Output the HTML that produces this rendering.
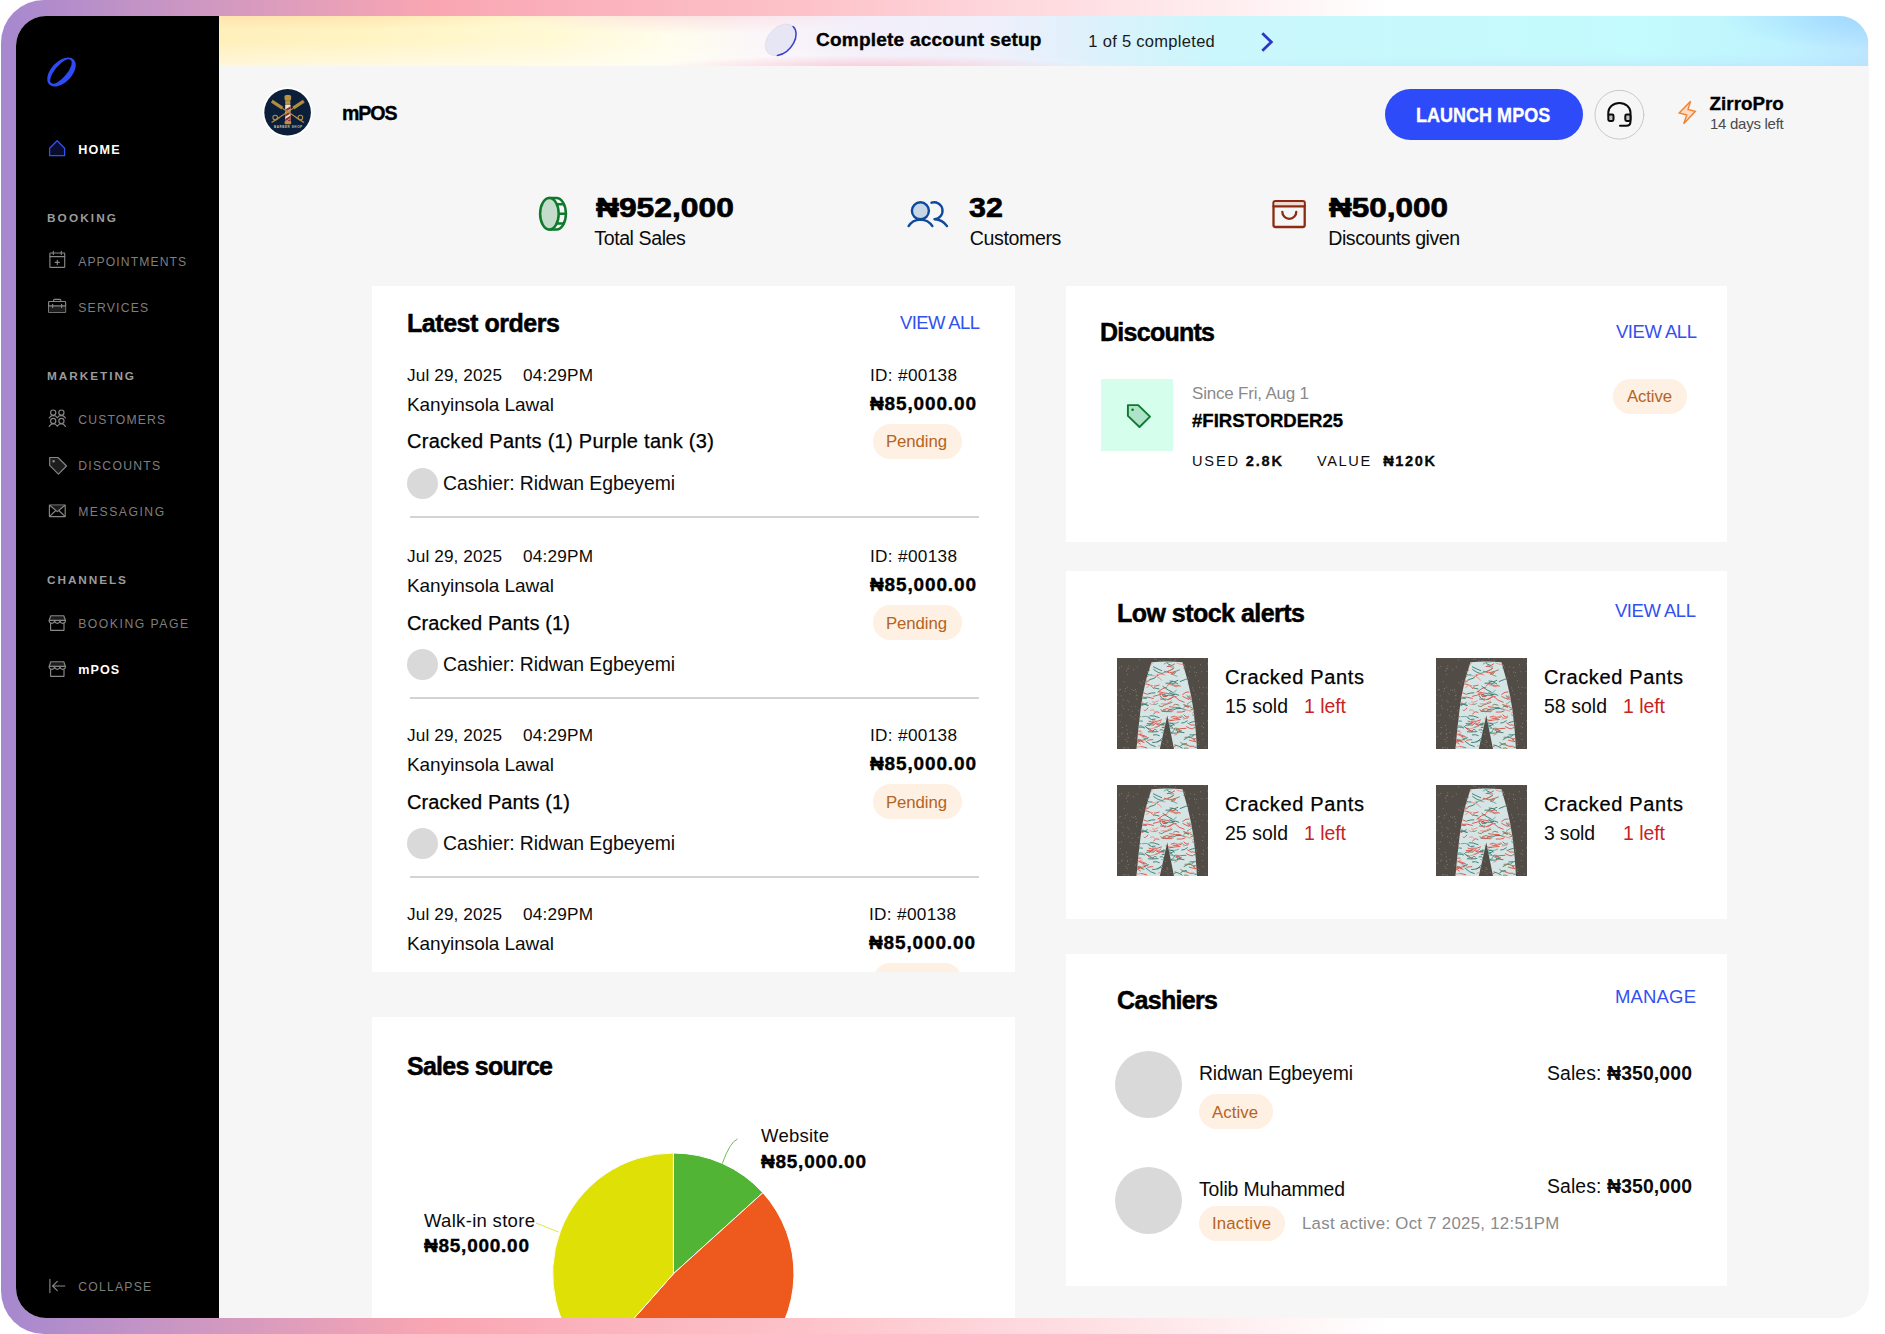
<!DOCTYPE html>
<html lang="en">
<head>
<meta charset="utf-8">
<title>mPOS</title>
<style>
*{box-sizing:border-box;margin:0;padding:0}
html,body{width:1885px;height:1334px;overflow:hidden;background:#fff}
body{font-family:"Liberation Sans",sans-serif;color:#0b0b0b;position:relative}
.frame{position:absolute;left:1px;top:0;width:1884px;height:1334px;border-radius:43px;
 background:linear-gradient(90deg,#a688cf 0px,#c795c4 160px,#f9a6b2 430px,#fdc2c9 800px,#fedfe3 1080px,#fff 1390px)}
.app{position:absolute;left:16px;top:16px;width:1852.500px;height:1302px;border-radius:30px;background:#f6f6f6;overflow:hidden}
.pg{position:absolute;left:-16px;top:-16px;width:1885px;height:1334px}
.a{position:absolute;white-space:nowrap;line-height:1}
.side{position:absolute;left:16px;top:16px;width:203px;height:1302px;background:#000}
.banner{position:absolute;left:219px;top:16px;width:1649px;height:50px;
 background:
  radial-gradient(ellipse 220px 13px at 650px 52px,rgba(251,176,192,.62),rgba(251,176,192,0) 100%),
  radial-gradient(ellipse 760px 34px at 200px 58px,rgba(255,255,255,.65),rgba(255,255,255,0) 100%),
  radial-gradient(ellipse 300px 16px at 60px -2px,rgba(255,214,160,.6),rgba(255,214,160,0) 100%),
  radial-gradient(ellipse 200px 22px at 470px -4px,rgba(250,205,215,.6),rgba(250,205,215,0) 100%),
  radial-gradient(ellipse 150px 34px at 1649px 0px,rgba(140,205,255,.6),rgba(140,205,255,0) 100%),
  radial-gradient(ellipse 560px 16px at 1420px 54px,rgba(180,215,255,.4),rgba(180,215,255,0) 100%),
  linear-gradient(90deg,#fff0bc 0px,#fff4c3 150px,#fff9d4 330px,#fffdec 450px,#fbf6f9 540px,#f3effa 640px,#eef0fb 780px,#dcf1fb 880px,#caf7fc 1000px,#c4fbfd 1420px,#bff3fe 1560px,#bce6fe 1649px)}
.card{position:absolute;background:#fff}
.pill{position:absolute;background:#fef0e2;border-radius:18px;color:#b4641f;font-size:16.5px;text-align:center;line-height:35px;height:35px}
.dot{position:absolute;border-radius:50%;background:#d9d9d9}
.hr{position:absolute;height:1.500px;margin-top:0.300px;background:#d3d3d3;left:38px;width:569px}
</style>
</head>
<body>
<div class="frame"></div>
<div class="app">
<div class="pg">
<div class="side"></div>
<svg class="a" style="left:0;top:0" width="230" height="1334" viewBox="0 0 230 1334" fill="none" stroke-linecap="round" stroke-linejoin="round">
  <!-- logo -->
  <path fill="#2f4bf6" fill-rule="evenodd" d="M44 72a17.500 10.300 0 1 0 35 0a17.500 10.300 0 1 0 -35 0Z M46.500 72.300a15 5.700 -4 1 0 29.900 -2.100a15 5.700 -4 1 0 -29.900 2.100Z" transform="rotate(-46 61.5 72)"/>
  <!-- home -->
  <path d="M49.600 148.200L57.100 140.700L64.600 148.200V155.700H49.600Z" fill="#0a0d2e" stroke="#3350f5" stroke-width="1.3"/>
  <g stroke="#878787" stroke-width="1.150">
  <!-- calendar -->
  <rect x="49.9" y="253" width="14.8" height="14.3" rx="0.6"/>
  <path d="M49.9 256.6H64.7M53.3 251.4V254.4M61.3 251.4V254.4M57.3 260.2V264.4M55.2 262.3H59.4"/>
  <!-- briefcase -->
  <rect x="48.6" y="301.5" width="17" height="11" rx="0.8"/>
  <path d="M48.9 306H65.3V312.2H48.9Z" fill="#1d1d1d" stroke="none"/>
  <path d="M53.6 301.5V300.3Q53.6 299.3 54.6 299.3H59.8Q60.8 299.3 60.8 300.3V301.5M48.6 305.9H65.6M52.6 304.2V307.5M61.6 304.2V307.5"/>
  <!-- customers -->
  <circle cx="53.2" cy="412.6" r="2.6"/><circle cx="61.4" cy="412.6" r="2.6"/>
  <circle cx="53.2" cy="420.9" r="2.6"/><circle cx="61.4" cy="420.9" r="2.6"/>
  <path d="M49.2 418Q50.6 415.6 53.2 415.4Q55.9 415.6 57.3 417.8Q58.7 415.6 61.4 415.4Q64 415.6 65.4 418"/>
  <path d="M49.2 426.4Q50.6 424 53.2 423.8Q55.9 424 57.3 426.2Q58.7 424 61.4 423.8Q64 424 65.4 426.4"/>
  <!-- tag -->
  <path d="M49.7 457.5H58L66.5 466L58.4 474.1L49.7 465.4Z" fill="#1d1d1d"/>
  <circle cx="53.6" cy="461.2" r="0.7" fill="#838383"/>
  <!-- envelope -->
  <rect x="49.4" y="505.1" width="15.8" height="11.5" rx="0.4"/>
  <path d="M49.8 505.5L57.3 511.5L64.8 505.5Z" fill="#1d1d1d" stroke="none"/>
  <path d="M49.6 505.3L57.3 511.6L65 505.3M49.6 516.4L55.8 510.5M65 516.4L58.8 510.5"/>
  <!-- store 1 -->
  <g id="store">
  <path d="M50.8 615.7H63.8L65.4 620.3H49.2Z" fill="#1d1d1d"/>
  <path d="M49.2 620.3V621.3Q49.4 623.2 51.9 623.4Q54.4 623.2 54.6 620.8Q54.9 623.2 57.3 623.4Q59.7 623.2 60 620.8Q60.2 623.2 62.7 623.4Q65.2 623.2 65.4 621.3V620.3"/>
  <path d="M50.6 623.4V630.3H64V623.4M54.6 620.3V621M60 620.3V621"/>
  </g>
  <use href="#store" y="46"/>
  <!-- collapse -->
  <path d="M49.9 1279.2V1292.6M52.8 1286H64.8M57.3 1281.3L52.6 1286L57.3 1290.7"/>
  </g>
</svg>

<div class="banner"></div>
<svg class="a" style="left:740px;top:16px" width="560" height="50" viewBox="740 16 560 50" fill="none" stroke-linecap="round" stroke-linejoin="round">
  <g transform="rotate(-47 780.7 39.8)">
    <ellipse cx="780.7" cy="39.8" rx="18.2" ry="12.4" fill="#e7e6f5" stroke="#dcdbe2" stroke-width="0.700"/>
    <path d="M798.9 39.8A18.2 12.4 0 0 1 767 48" stroke="#3a3ed2" stroke-width="1.5"/>
  </g>
  <path d="M1262.3 33.3L1271.3 42L1262.3 50.7" stroke="#2f35c9" stroke-width="2.800" stroke-linecap="butt" stroke-linejoin="miter"/>
</svg>
<svg class="a" style="left:255px;top:80px" width="70" height="66" viewBox="255 80 70 66">
  <circle cx="287.600" cy="112.300" r="25" fill="#fff"/>
  <circle cx="287.600" cy="112.300" r="23.300" fill="#0c1f3a"/>
  
  <rect x="284.500" y="95" width="6.600" height="5.600" rx="1.600" fill="#b8923f"/>
  <rect x="285.200" y="100.200" width="5.200" height="4.600" rx="0.800" fill="#b8923f"/>
  <rect x="285.200" y="104.800" width="5.400" height="16.400" fill="#e9e4d8"/>
  <path d="M285.200 109.600l5.400-3.400v2.500l-5.400 3.400zM285.200 114.300l5.400-3.400v2.500l-5.400 3.400zM285.200 119l5.400-3.400v2.500l-5.400 3.400zM286.500 121.200l4.100-2.600v2.500l-.2 .1z" fill="#9a2b2b"/>
  <rect x="284.600" y="121" width="6.600" height="3.200" rx="1" fill="#b8923f"/>
  <g stroke="#b08c40" stroke-linecap="butt" fill="none">
    <path d="M271.800 101.200L282.400 108.200" stroke-width="3.200"/><path d="M282.400 108.200L304 122.400" stroke-width="1.200"/>
    <path d="M303.800 101.200L293.200 108.200" stroke-width="3.200"/><path d="M293.200 108.200L271.600 122.400" stroke-width="1.200"/>
    <circle cx="275.200" cy="117.600" r="2.300" stroke-width="1.100"/><circle cx="300.400" cy="117.600" r="2.300" stroke-width="1.100"/>
    <path d="M273 121.800L280 117.800M302.600 121.800L295.600 117.800" stroke-width="0.800" opacity="0.700"/>
  </g>
  <text x="288.300" y="127.900" font-family="Liberation Sans, sans-serif" font-weight="700" font-size="3" letter-spacing="0.600" fill="#cfc5a4" text-anchor="middle">BARBER SHOP</text>
</svg>
<div class="a" style="left:1385px;top:88.8px;width:198px;height:51.6px;border-radius:26px;background:#2e4bfa"></div>
<svg class="a" style="left:1590px;top:85px" width="115" height="60" viewBox="1590 85 115 60" fill="none" stroke-linecap="round" stroke-linejoin="round">
  <circle cx="1619.4" cy="114.7" r="24.4" stroke="#c9c9c9" stroke-width="1"/>
  <path d="M1608.3 115V112.5A11.1 9.6 0 0 1 1630.5 112.500V121.500Q1630.5 125.8 1626.2 125.8H1620" stroke="#0b0b0b" stroke-width="2"/>
  <rect x="1608.3" y="114.600" width="5.2" height="6.400" rx="1.4" fill="#c2c2c2" stroke="#0b0b0b" stroke-width="2"/>
  <rect x="1625.3" y="114.600" width="5.2" height="6.400" rx="1.4" fill="#c2c2c2" stroke="#0b0b0b" stroke-width="2"/>
  <path d="M1690.6 101.200L1679.200 113L1686.800 115L1683.700 123.700L1695.300 111.300L1688 109.400Z" fill="#fbdccb" stroke="#f5822a" stroke-width="1.400" stroke-linejoin="miter"/>
</svg>
<svg class="a" style="left:530px;top:190px" width="790" height="48" viewBox="530 190 790 48" fill="none" stroke-linecap="round" stroke-linejoin="round">
  <g stroke="#0e7a2b" stroke-width="2.5">
    <path d="M549.3 198.100H556.500A9.400 15.700 0 0 1 556.500 229.500H549.300" />
    <path d="M563.800 204.200H557.500M566 213.800H558.800M563.800 223.400H557.500"/>
    <ellipse cx="549.4" cy="213.8" rx="9.3" ry="15.700" fill="#c3dccb"/>
  </g>
  <g stroke="#0d4a9c" stroke-width="2.4">
    <circle cx="920.4" cy="210.800" r="8.500" fill="#c9d6e6"/>
    <path d="M908.600 226.100Q912.500 219.800 920.400 219.600Q928.300 219.800 932.400 226.100"/>
    <path d="M931.500 202.700A8.500 8.500 0 1 1 934.500 219.300Q942.500 219.600 947 226.100"/>
  </g>
  <g stroke="#8c2b0f" stroke-width="2.300">
    <rect x="1273.500" y="201.100" width="31.200" height="25.900" rx="2"/>
    <path d="M1274.500 202.300H1303.700V205.300H1274.500Z" fill="#f0dbd4" stroke="none"/>
    <path d="M1273.500 206.300H1304.700"/>
    <path d="M1282.300 211.800A7 7 0 0 0 1296.300 211.800"/>
  </g>
</svg>
<div class="card" style="left:372px;top:286px;width:643px;height:686px;overflow:hidden">
  <div class="hr" style="top:230px"></div>
  <div class="hr" style="top:411px"></div>
  <div class="hr" style="top:590px"></div>
  <div class="dot" style="left:34.500px;top:181.500px;width:31px;height:31px"></div>
  <div class="dot" style="left:34.500px;top:362.800px;width:31px;height:31px"></div>
  <div class="dot" style="left:34.500px;top:541.500px;width:31px;height:31px"></div>
  <div class="pill" style="left:501px;top:138px;width:89px"></div>
  <div class="pill" style="left:501px;top:319px;width:89px"></div>
  <div class="pill" style="left:501px;top:498px;width:89px"></div>
  <div class="pill" style="left:501px;top:677px;width:89px"></div>
</div>
<div class="card" style="left:372px;top:1017px;width:643px;height:320px"></div>
<svg class="a" style="left:372px;top:1100px" width="643" height="234" viewBox="372 1100 643 234" fill="none">
  <g stroke="#fff" stroke-width="1" stroke-linejoin="round">
  <path d="M673.4 1273.8L673.4 1153.0A120.8 120.8 0 0 1 762.9 1192.7Z" fill="#52b434"/>
  <path d="M673.4 1273.8L762.9 1192.7A120.8 120.8 0 0 1 593.4 1364.3Z" fill="#ee5a1e"/>
  <path d="M673.4 1273.8L593.4 1364.3A120.8 120.8 0 0 1 673.4 1153.0Z" fill="#dfe006"/>
  </g>
  <path d="M722.300 1163.500Q730 1142 737.500 1139" stroke="#6fc053" stroke-width="1"/>
  <path d="M536 1223L558.500 1232" stroke="#e3e44a" stroke-width="1"/>
</svg>
<div class="card" style="left:1065.500px;top:286px;width:661px;height:256px"></div>
<div class="a" style="left:1101.300px;top:378.800px;width:72px;height:72px;background:#d6feec"></div>
<svg class="a" style="left:1120px;top:398px" width="36" height="36" viewBox="1120 398 36 36" fill="none" stroke-linejoin="round">
  <path d="M1127.900 405.100H1138.200L1150 416.600L1139.500 427L1127.900 415.900Z" fill="#aee3c9" stroke="#0c7a2d" stroke-width="1.900"/>
  <circle cx="1132.600" cy="409.800" r="1.300" fill="#0c7a2d"/>
</svg>
<div class="pill" style="left:1613px;top:379px;width:74px"></div>
<div class="card" style="left:1065.500px;top:571px;width:661px;height:348px"></div>
<svg width="0" height="0" style="position:absolute"><defs>
<symbol id="pants" viewBox="0 0 91 91">
  <rect width="91" height="91" fill="#514c45"/>
  <path d="M52.5 20.7h.01M35.3 33.6h.01M59.8 73.8h.01M33.2 58.1h.01M32.2 25.4h.01M82.4 29.3h.01M8.6 30.5h.01M67.5 19.2h.01M67.6 49.7h.01M61.9 16.1h.01M9.6 13.0h.01M31.9 39.2h.01M0.9 45.7h.01M36.7 29.3h.01M48.9 86.7h.01M18.6 80.1h.01M29.2 68.6h.01M9.9 89.9h.01M39.1 87.6h.01M20.0 37.1h.01M64.3 16.2h.01M24.9 61.6h.01M86.2 29.3h.01M16.7 32.5h.01M90.0 13.5h.01M57.8 34.4h.01M58.6 19.3h.01M56.1 80.8h.01M77.9 57.2h.01M45.9 51.7h.01M10.4 76.2h.01M62.8 41.2h.01M60.6 38.2h.01M35.0 20.9h.01M54.7 52.1h.01M46.9 2.9h.01M57.1 40.7h.01M54.0 54.1h.01M84.8 13.8h.01M42.7 90.4h.01M67.2 28.5h.01M67.0 90.0h.01M36.6 78.9h.01M11.5 90.1h.01M44.7 21.3h.01M76.5 59.1h.01M85.3 75.5h.01M72.6 46.6h.01M90.4 5.9h.01M79.2 64.8h.01M22.8 73.5h.01M41.3 48.8h.01M78.8 17.8h.01M25.4 58.6h.01M6.7 50.5h.01M71.6 44.7h.01M22.0 72.8h.01M77.8 70.1h.01M50.0 82.4h.01M72.5 13.8h.01M33.3 9.1h.01M3.3 31.5h.01M78.7 75.9h.01M10.7 16.5h.01M35.4 77.3h.01M56.2 82.1h.01M6.5 89.9h.01M18.8 57.3h.01M79.8 66.2h.01M17.9 60.8h.01M39.2 1.4h.01M30.9 28.7h.01M57.3 25.3h.01M54.9 63.2h.01M16.4 11.7h.01M63.1 42.4h.01M11.7 10.6h.01M85.6 55.5h.01M32.5 17.9h.01M90.5 62.9h.01M67.0 32.8h.01M28.2 37.2h.01M13.3 57.4h.01M38.6 74.6h.01M37.2 41.6h.01M46.1 85.7h.01M31.5 64.0h.01M21.4 52.7h.01M25.9 79.4h.01M26.1 77.8h.01M61.6 41.4h.01M85.0 35.3h.01M67.6 54.7h.01M40.8 5.8h.01M38.1 25.6h.01M40.1 86.9h.01M26.7 63.2h.01M61.2 22.3h.01M37.4 12.0h.01M81.5 22.9h.01M38.3 31.1h.01M74.7 77.4h.01M53.8 49.7h.01M9.0 81.6h.01M8.0 33.1h.01M34.1 65.8h.01M60.9 31.3h.01M81.7 86.4h.01M2.1 57.6h.01M42.7 32.9h.01M42.3 28.8h.01M61.0 55.1h.01M88.3 88.9h.01M90.3 36.0h.01M75.4 59.1h.01M63.8 90.8h.01M6.1 42.1h.01M36.5 59.7h.01M19.8 90.1h.01M19.1 33.7h.01M13.0 35.9h.01M67.5 7.6h.01M15.2 59.1h.01M56.7 67.5h.01M23.1 73.8h.01M66.5 70.6h.01M10.9 42.6h.01M1.4 78.2h.01M86.0 81.5h.01M2.2 32.0h.01M48.8 48.6h.01M10.1 71.8h.01M27.4 46.2h.01M11.3 51.7h.01M11.8 8.0h.01M46.6 26.8h.01M70.8 22.5h.01M37.7 4.9h.01M19.8 41.1h.01M50.8 41.8h.01M77.4 9.5h.01M77.4 14.1h.01M88.3 47.8h.01M37.0 55.7h.01M78.6 87.7h.01M37.6 1.0h.01M14.0 74.5h.01M66.8 64.8h.01M14.2 48.3h.01M2.6 10.0h.01M27.4 87.9h.01M58.5 77.1h.01M4.2 37.9h.01M7.1 23.7h.01M10.2 83.6h.01M29.9 44.5h.01M59.5 80.7h.01M86.1 51.7h.01M45.6 82.3h.01M35.9 27.2h.01M67.3 23.5h.01M33.5 39.1h.01M43.4 32.6h.01M39.2 41.0h.01M4.5 76.0h.01M5.6 48.0h.01M49.8 36.4h.01M20.3 9.0h.01M33.8 28.6h.01M44.0 21.0h.01M68.2 44.4h.01M0.8 37.0h.01M87.9 0.6h.01M54.0 87.4h.01M33.3 54.4h.01M33.6 27.4h.01M55.4 53.6h.01M28.7 45.3h.01M47.0 68.6h.01M4.8 8.4h.01M22.9 24.6h.01M72.4 38.7h.01M78.3 36.6h.01M26.0 61.9h.01M7.8 89.6h.01M75.7 29.9h.01M28.9 74.6h.01M71.7 58.4h.01M5.2 69.5h.01M4.4 56.8h.01M50.2 84.4h.01M58.1 2.0h.01M85.0 68.5h.01M52.8 0.5h.01M67.1 38.1h.01M61.8 89.5h.01M83.4 6.8h.01M71.1 40.1h.01M68.4 34.4h.01M40.7 39.8h.01M10.7 29.1h.01M66.9 6.5h.01M10.5 75.9h.01M60.6 49.9h.01M10.3 10.8h.01M28.2 86.8h.01M51.0 83.9h.01M19.2 37.7h.01M48.8 76.4h.01M11.2 79.5h.01M43.0 2.9h.01M39.3 34.4h.01M61.4 84.5h.01M44.9 62.8h.01M35.3 70.9h.01M9.6 67.6h.01M15.2 53.3h.01M18.4 31.5h.01M14.9 31.8h.01M53.8 47.3h.01M35.4 52.3h.01M76.6 32.6h.01M53.1 43.7h.01M89.2 29.8h.01M63.5 21.3h.01M23.8 66.5h.01M52.3 23.4h.01M5.8 75.1h.01M34.4 65.2h.01M39.4 56.2h.01M50.9 88.8h.01M82.8 41.5h.01M44.3 21.1h.01M68.5 9.3h.01M27.9 77.1h.01M3.2 63.6h.01M51.7 50.2h.01M30.3 13.8h.01M86.5 69.6h.01M73.3 8.9h.01M71.4 19.9h.01M18.1 48.7h.01M55.5 11.0h.01M69.6 53.0h.01M81.8 84.1h.01M62.7 33.1h.01M86.5 65.4h.01M26.5 78.0h.01M66.1 24.1h.01M22.7 1.9h.01M48.9 23.1h.01M26.7 23.0h.01M12.0 44.1h.01M24.8 25.9h.01M25.3 46.3h.01M79.5 14.6h.01M78.2 77.8h.01M55.5 49.5h.01M66.8 48.6h.01M60.1 83.7h.01" stroke="#8a857b" stroke-width="1" stroke-linecap="round" fill="none"/>
  <clipPath id="pc"><path d="M34.500 4.300Q50 2.600 65.500 4.300Q67.500 12 70.500 22Q74.500 38 76.500 52Q79 72 80 91H57L50.300 57.500L42.800 91H19.500Q21 72 23.500 52Q25.500 36 29 22Q32 12 34.500 4.300Z"/></clipPath>
  <path d="M34.500 4.300Q50 2.600 65.500 4.300Q67.500 12 70.500 22Q74.500 38 76.500 52Q79 72 80 91H57L50.300 57.500L42.800 91H19.500Q21 72 23.500 52Q25.500 36 29 22Q32 12 34.500 4.300Z" fill="#d5e5e6"/>
  <g fill="none" stroke-linecap="round" stroke-width="0.950" clip-path="url(#pc)"><path stroke="#6aa79b" d="M70.3 45.9Q74.0 42.3 78.1 43.1M66.4 10.1Q68.4 7.8 73.0 8.2M54.1 15.6Q58.5 17.9 60.0 18.3M51.4 7.2Q54.2 10.7 56.8 8.9M23.1 43.9Q26.5 46.1 30.6 47.6M51.3 64.4Q58.0 66.7 61.7 64.1M44.8 53.2Q48.7 53.6 54.6 53.8M21.3 68.3Q23.0 66.5 26.2 68.4M75.5 6.0Q79.8 7.8 83.4 9.0M44.7 74.7Q47.4 76.7 50.7 73.4M64.9 58.0Q67.1 61.8 70.8 59.9M15.3 33.1Q17.3 32.9 21.6 34.2M52.4 35.0Q56.5 36.5 59.3 32.1M46.4 14.9Q52.6 13.1 56.4 10.7M25.9 79.8Q27.5 81.6 30.6 80.8M36.5 46.5Q39.5 46.9 40.6 45.6M50.4 69.4Q55.3 69.6 60.2 72.8M47.1 5.9Q50.4 3.1 55.1 3.8M14.1 51.9Q17.3 51.8 20.5 49.9M25.2 58.7Q28.5 57.7 32.6 59.2"/><path stroke="#3c7d71" d="M46.0 28.5Q51.7 32.6 55.4 34.2M67.1 49.1Q68.0 46.9 71.3 49.4M40.3 66.4Q42.8 67.7 47.2 66.9M43.3 37.8Q44.7 41.7 49.2 41.2M81.1 46.6Q83.9 46.1 88.5 49.7M75.8 57.1Q77.5 58.4 82.1 54.2M22.8 46.2Q25.8 45.0 31.4 47.3M45.7 36.4Q48.3 35.1 49.5 38.4M48.9 25.3Q52.6 26.1 55.5 23.4M63.8 87.6Q66.4 85.2 69.3 85.5M36.4 76.9Q39.9 76.0 42.3 77.6M35.6 73.7Q37.4 70.0 39.4 72.0M30.6 16.4Q32.6 17.5 34.9 17.0M28.9 83.2Q33.7 87.7 38.3 88.6M72.8 64.7Q79.5 62.1 83.4 64.6M58.7 50.6Q64.7 49.6 68.6 51.8M52.0 66.0Q55.6 64.0 57.4 66.8M77.8 89.2Q81.0 89.2 82.6 89.2M36.7 11.5Q42.4 16.1 45.7 15.4M42.4 67.6Q44.5 64.3 46.8 66.8M83.3 83.4Q86.8 81.7 87.6 82.4M49.3 71.0Q52.3 67.5 56.7 66.6M55.8 36.2Q59.0 35.4 61.8 37.2M76.8 69.9Q80.0 68.4 80.6 72.1M80.7 68.6Q84.4 69.2 85.8 66.3M33.2 57.7Q36.7 57.3 42.1 59.6M77.9 18.2Q80.3 18.7 82.8 21.0M38.1 69.5Q41.3 69.2 46.9 65.1M45.1 69.8Q47.2 70.5 51.3 67.2M75.3 10.9Q77.5 12.2 79.8 11.2M64.7 65.1Q67.1 65.3 70.3 62.8M77.4 32.4Q82.2 33.9 84.5 33.1M31.4 35.8Q34.3 34.7 37.9 34.8M67.1 81.5Q69.8 80.3 72.3 78.5M55.6 23.7Q57.2 24.6 60.8 22.4M57.9 86.9Q61.5 87.8 65.1 89.9M70.1 37.9Q73.3 40.9 77.8 38.0M43.1 71.9Q46.3 70.8 47.6 74.1M19.8 69.9Q22.3 68.0 27.6 69.9M79.6 70.0Q84.9 69.0 89.9 72.9M28.0 68.4Q31.0 71.2 33.6 71.3M37.3 29.8Q38.8 30.6 41.9 30.9M23.5 46.1Q25.7 47.7 30.3 44.8M25.1 40.3Q26.1 39.8 29.3 40.4M36.4 8.8Q41.3 11.3 44.7 12.7M75.5 21.8Q79.1 21.8 85.3 23.9M77.0 5.4Q81.3 6.5 85.2 7.2M27.4 81.5Q30.1 79.4 31.4 79.6M60.5 73.6Q64.9 74.7 67.0 74.7M82.8 42.8Q85.3 43.5 90.5 43.0M78.1 55.5Q78.7 53.7 81.8 57.1M32.3 21.8Q36.9 21.6 41.8 16.7M52.6 25.3Q55.4 25.9 59.1 28.6M46.4 38.6Q52.1 36.2 56.2 37.3M31.3 73.8Q35.8 74.3 40.9 73.6M19.1 64.8Q20.8 62.1 25.4 63.2M49.8 53.9Q52.7 50.0 58.0 51.3M24.3 22.0Q26.9 22.0 30.1 23.4M53.6 75.2Q59.4 76.5 64.2 72.8M53.1 35.1Q55.0 37.5 57.7 36.5M63.2 23.5Q69.0 20.9 73.2 20.1M35.6 84.5Q41.5 84.9 45.0 80.3M40.7 84.0Q42.7 82.1 44.7 82.4M31.7 59.9Q34.0 62.7 38.1 61.2M73.0 76.9Q77.6 77.3 80.9 76.2M47.0 65.1Q50.6 65.8 55.5 69.4M72.3 79.3Q74.4 80.3 76.9 76.9M29.7 67.5Q33.1 67.3 36.0 64.9M52.2 74.4Q53.4 76.1 56.9 72.7M75.6 42.1Q77.3 43.5 80.3 44.1M53.0 22.9Q56.2 22.5 60.8 25.8M50.0 4.9Q50.9 6.4 54.8 7.6"/><path stroke="#de5449" d="M45.7 53.3Q50.9 53.6 56.1 52.9M70.7 65.0Q73.9 67.0 74.4 67.2M36.8 56.0Q38.8 52.3 42.0 54.5M20.1 33.3Q24.1 33.3 30.4 36.3M14.8 44.9Q17.5 45.7 22.0 46.4M83.9 5.7Q86.4 7.6 88.4 8.5M83.3 22.8Q85.5 22.4 88.8 24.5M19.2 22.4Q22.4 21.0 26.5 18.1M65.8 38.5Q68.9 40.1 72.1 41.5M54.9 16.4Q58.0 16.5 58.6 14.2M15.5 60.0Q18.5 63.9 22.6 61.8M54.1 59.0Q57.7 56.8 60.7 59.6M46.4 51.6Q49.6 49.2 54.0 51.8M30.1 65.5Q35.1 64.5 37.5 66.4M75.6 37.8Q78.5 37.0 83.5 36.2M69.8 87.1Q72.5 89.0 76.9 88.3M67.8 46.9Q68.4 49.4 71.7 48.3M32.0 63.1Q37.2 64.0 41.8 67.3M50.7 13.6Q53.0 13.1 56.8 10.1M77.2 31.8Q79.1 36.2 82.7 34.6M24.3 20.2Q28.3 23.8 29.3 22.2M50.1 41.8Q54.2 41.8 57.1 37.7M42.6 35.6Q45.8 34.7 48.5 38.6M49.3 90.5Q55.2 90.7 58.6 87.9M71.0 39.7Q76.3 43.4 80.4 43.9M60.2 54.1Q65.5 54.5 67.9 53.2M52.5 48.7Q59.4 49.9 63.2 49.5M52.5 62.8Q59.1 61.5 63.1 61.5M15.9 72.0Q19.6 73.7 23.9 73.2M24.1 88.5Q25.5 88.6 29.7 89.8M56.1 60.3Q61.1 61.5 64.7 59.0M27.3 25.9Q33.3 25.5 37.0 30.7M14.7 26.8Q15.7 24.5 18.3 24.8M65.7 36.4Q69.1 33.2 72.0 33.9M81.6 61.3Q86.1 60.8 90.2 56.9M37.4 28.1Q38.3 28.5 42.1 27.1M41.6 33.7Q46.9 35.0 52.2 35.8M72.4 82.2Q77.7 84.3 82.9 83.8M43.5 41.0Q47.4 40.9 48.4 42.3M36.5 38.3Q41.4 37.1 43.9 36.4M60.2 71.9Q62.1 71.1 64.5 73.7M76.5 80.9Q80.9 80.2 86.8 80.3M50.1 8.7Q53.0 9.8 57.6 5.9M78.2 12.0Q82.9 10.6 87.5 8.9M80.3 88.8Q83.5 91.5 86.4 88.2M39.2 64.5Q41.4 67.0 43.9 63.9M45.3 37.7Q46.5 38.8 50.0 38.3M26.6 39.4Q30.3 38.3 36.4 40.4M83.1 42.2Q88.7 43.9 92.4 40.5M59.3 71.5Q63.6 70.3 69.0 70.3M83.9 66.2Q87.7 67.5 94.4 67.0M18.5 84.5Q22.1 84.2 23.4 85.9M22.6 76.6Q24.5 78.3 28.0 79.1M27.0 52.2Q28.0 54.0 30.9 50.0M35.5 63.1Q40.4 64.3 44.6 61.9M50.4 27.2Q54.7 23.7 58.2 25.7M22.2 14.1Q27.5 12.6 32.6 12.1M75.8 81.2Q77.7 84.5 81.1 83.3M47.3 13.3Q52.9 16.2 57.7 13.8M83.9 68.3Q89.1 68.0 93.9 66.9M29.5 69.7Q31.9 73.2 36.7 73.1M75.8 54.7Q79.9 51.0 82.7 53.1M18.4 82.8Q22.8 82.7 28.0 81.7M74.9 66.8Q78.6 67.0 79.7 67.8M51.6 41.3Q56.8 38.0 59.1 38.4M24.6 5.6Q28.2 3.9 32.1 5.0M19.1 83.8Q23.9 82.5 27.1 84.2M66.9 56.9Q69.3 60.4 71.6 58.2M30.8 82.3Q32.7 81.6 35.8 81.7M82.0 63.8Q86.3 64.9 89.8 68.3M16.8 39.5Q20.1 38.6 24.3 35.5M17.8 47.6Q21.3 46.0 25.9 47.3M40.9 34.0Q46.0 29.8 49.9 29.0M19.5 76.5Q25.4 76.1 29.5 78.6M76.0 31.6Q81.0 35.3 84.8 33.5M48.9 60.9Q53.3 63.0 55.3 62.3M70.1 15.0Q72.5 13.7 76.6 16.2M58.2 38.9Q61.4 42.9 67.2 44.3M75.0 21.1Q79.1 20.6 81.4 21.3M57.8 28.1Q60.2 26.6 63.4 28.0M24.6 4.6Q27.7 4.5 33.8 6.4M74.5 91.5Q78.5 90.8 81.2 94.0M80.1 51.4Q82.9 50.7 88.6 49.3M69.5 68.7Q73.7 71.4 75.9 70.9M79.5 46.4Q85.6 46.7 89.4 45.4"/><path stroke="#8a7d55" d="M71.2 26.0Q75.1 24.8 76.4 27.3M57.0 70.5Q61.4 69.1 63.4 72.7M32.3 67.2Q33.0 66.3 36.4 67.2M81.8 50.1Q85.7 48.9 89.4 47.5M20.5 18.7Q27.0 20.2 31.0 18.2M23.4 25.1Q26.6 25.9 32.1 22.7M54.6 15.8Q57.3 13.2 62.4 11.9M67.3 90.2Q70.1 89.1 71.4 90.8M73.9 51.7Q78.0 50.1 82.0 51.1M63.6 84.5Q67.3 87.8 70.0 86.9M68.0 79.3Q74.0 78.4 77.7 81.7M42.2 47.8Q45.7 49.9 46.9 47.0M66.6 46.7Q72.8 48.2 76.8 50.7M47.1 47.1Q51.0 45.9 55.0 44.3M19.8 81.7Q22.9 79.9 25.8 83.5M56.6 47.0Q58.1 45.3 61.9 47.1M43.7 51.9Q45.4 53.8 48.5 53.0M16.8 58.7Q19.8 58.0 23.7 58.6M83.8 21.8Q88.6 23.5 93.9 21.6"/><path stroke="#ee8f86" d="M57.6 77.2Q60.7 76.7 61.5 75.0M41.1 88.3Q44.4 88.2 49.5 83.1M38.6 64.3Q43.1 68.1 48.1 68.4M83.5 81.4Q88.8 81.4 92.6 80.3M39.8 16.6Q44.7 15.7 48.0 16.8M72.2 37.7Q76.6 40.4 79.7 39.1M81.1 64.2Q82.8 61.2 86.5 64.1M15.9 89.3Q20.6 89.3 23.5 88.5M32.8 45.6Q36.2 47.9 37.7 45.3M16.5 17.7Q19.1 15.7 20.5 16.7M70.2 46.4Q72.5 49.4 74.2 47.6M44.1 46.0Q49.3 47.1 54.5 43.0M28.3 8.6Q31.6 8.0 35.3 5.5M34.4 70.8Q39.4 69.6 43.6 67.5M71.6 4.8Q74.7 7.3 77.2 7.5M66.2 61.1Q69.7 60.4 71.7 59.4M35.2 17.7Q40.7 17.1 44.6 22.3M77.7 7.2Q79.0 4.8 82.1 5.6M71.5 11.3Q73.2 11.8 77.3 12.6M59.8 5.1Q62.2 6.2 66.2 6.6M35.4 44.0Q37.4 45.1 41.5 42.8M82.4 82.8Q83.8 83.0 87.4 81.2M33.5 52.2Q37.4 50.6 38.3 54.5M66.1 50.8Q68.8 51.6 73.9 53.2M52.3 26.5Q56.0 27.9 61.1 28.7M17.8 41.4Q22.7 44.6 26.1 44.5M20.2 76.2Q21.7 76.7 25.2 74.8M18.3 40.1Q22.8 36.4 24.5 38.1M23.6 25.2Q29.6 25.2 32.6 21.2M29.8 29.7Q31.5 25.9 35.9 27.7M20.3 41.6Q22.9 39.0 26.3 38.5M16.5 32.5Q20.6 34.1 22.9 31.0M57.9 58.6Q60.7 60.3 64.8 58.0M83.2 76.0Q89.3 75.0 93.2 73.9"/></g>
</symbol></defs></svg>
<svg class="a" style="left:1117px;top:658px" width="91" height="91"><use href="#pants"/></svg>
<svg class="a" style="left:1436px;top:658px" width="91" height="91"><use href="#pants"/></svg>
<svg class="a" style="left:1117px;top:785px" width="91" height="91"><use href="#pants"/></svg>
<svg class="a" style="left:1436px;top:785px" width="91" height="91"><use href="#pants"/></svg>
<div class="card" style="left:1065.500px;top:954px;width:661px;height:332px"></div>
<div class="dot" style="left:1115px;top:1051px;width:67px;height:67px"></div>
<div class="dot" style="left:1115px;top:1167px;width:67px;height:67px"></div>
<div class="pill" style="left:1199px;top:1094px;width:74px"></div>
<div class="pill" style="left:1199px;top:1206px;width:86px"></div>
<div class="a" style="left:78.3px;top:143.7px;font-size:12.6px;color:#fff;font-weight:700;letter-spacing:1.21px;">HOME</div>
<div class="a" style="left:47.0px;top:213.3px;font-size:11.8px;color:#9c9c9c;font-weight:700;letter-spacing:2.10px;">BOOKING</div>
<div class="a" style="left:78.2px;top:255.9px;font-size:12.2px;color:#7e7e7e;letter-spacing:1.08px;">APPOINTMENTS</div>
<div class="a" style="left:78.2px;top:301.9px;font-size:12.2px;color:#7e7e7e;letter-spacing:1.23px;">SERVICES</div>
<div class="a" style="left:47.0px;top:371.3px;font-size:11.8px;color:#9c9c9c;font-weight:700;letter-spacing:1.95px;">MARKETING</div>
<div class="a" style="left:78.2px;top:413.9px;font-size:12.2px;color:#7e7e7e;letter-spacing:1.17px;">CUSTOMERS</div>
<div class="a" style="left:78.2px;top:459.9px;font-size:12.2px;color:#7e7e7e;letter-spacing:1.28px;">DISCOUNTS</div>
<div class="a" style="left:78.2px;top:505.9px;font-size:12.2px;color:#7e7e7e;letter-spacing:1.52px;">MESSAGING</div>
<div class="a" style="left:47.0px;top:575.3px;font-size:11.8px;color:#9c9c9c;font-weight:700;letter-spacing:1.92px;">CHANNELS</div>
<div class="a" style="left:78.2px;top:617.9px;font-size:12.2px;color:#7e7e7e;letter-spacing:1.52px;">BOOKING PAGE</div>
<div class="a" style="left:78.2px;top:664.2px;font-size:12.6px;color:#fff;font-weight:700;letter-spacing:1.07px;">mPOS</div>
<div class="a" style="left:78.2px;top:1280.9px;font-size:12.2px;color:#7e7e7e;letter-spacing:1.23px;">COLLAPSE</div>
<div class="a" style="left:816.0px;top:30.4px;font-size:19px;color:#000;font-weight:700;letter-spacing:0.23px;-webkit-text-stroke:0.35px currentColor;">Complete account setup</div>
<div class="a" style="left:1088.3px;top:33.2px;font-size:16.5px;color:#1a1a1a;letter-spacing:0.30px;">1 of 5 completed</div>
<div class="a" style="left:342.0px;top:103.6px;font-size:19.6px;color:#000;font-weight:700;letter-spacing:-1.10px;-webkit-text-stroke:0.35px currentColor;">mPOS</div>
<div class="a" style="left:1415.8px;top:104.8px;font-size:20.4px;color:#fff;font-weight:700;transform:scaleX(0.8841);transform-origin:0 0;-webkit-text-stroke:0.35px currentColor;">LAUNCH MPOS</div>
<div class="a" style="left:1709.6px;top:94.6px;font-size:18.8px;color:#000;font-weight:700;letter-spacing:0.02px;-webkit-text-stroke:0.35px currentColor;">ZirroPro</div>
<div class="a" style="left:1710.0px;top:116.3px;font-size:15px;color:#4a4a4a;letter-spacing:-0.27px;">14 days left</div>
<div class="a" style="left:596.0px;top:193.3px;font-size:28.2px;color:#000;font-weight:700;transform:scaleX(1.1272);transform-origin:0 0;-webkit-text-stroke:0.7px #000;">₦952,000</div>
<div class="a" style="left:594.3px;top:228.7px;font-size:19.6px;color:#0b0b0b;letter-spacing:-0.43px;">Total Sales</div>
<div class="a" style="left:969.2px;top:193.3px;font-size:28.2px;color:#000;font-weight:700;transform:scaleX(1.0778);transform-origin:0 0;-webkit-text-stroke:0.7px #000;">32</div>
<div class="a" style="left:969.8px;top:228.7px;font-size:19.6px;color:#0b0b0b;letter-spacing:-0.39px;">Customers</div>
<div class="a" style="left:1329.0px;top:193.3px;font-size:28.2px;color:#000;font-weight:700;transform:scaleX(1.1166);transform-origin:0 0;-webkit-text-stroke:0.7px #000;">₦50,000</div>
<div class="a" style="left:1328.2px;top:228.5px;font-size:19.6px;color:#0b0b0b;letter-spacing:-0.45px;">Discounts given</div>
<div class="a" style="left:407.0px;top:310.9px;font-size:25px;color:#000;font-weight:700;letter-spacing:-0.45px;-webkit-text-stroke:0.5px #000;">Latest orders</div>
<div class="a" style="left:900.0px;top:313.7px;font-size:18.5px;color:#3350f0;letter-spacing:-0.62px;">VIEW ALL</div>
<div class="a" style="left:407.0px;top:367.1px;font-size:17.2px;color:#0b0b0b;letter-spacing:0.12px;">Jul 29, 2025</div>
<div class="a" style="left:523.0px;top:367.1px;font-size:17.2px;color:#0b0b0b;letter-spacing:0.20px;">04:29PM</div>
<div class="a" style="left:870.0px;top:367.1px;font-size:17.2px;color:#0b0b0b;letter-spacing:0.32px;">ID: #00138</div>
<div class="a" style="left:407.0px;top:394.5px;font-size:19px;color:#0b0b0b;letter-spacing:-0.06px;">Kanyinsola Lawal</div>
<div class="a" style="left:870.0px;top:394.0px;font-size:19px;color:#000;font-weight:700;letter-spacing:0.86px;-webkit-text-stroke:0.35px currentColor;">₦85,000.00</div>
<div class="a" style="left:407.0px;top:431.2px;font-size:20px;color:#000;letter-spacing:0.28px;-webkit-text-stroke:0.25px currentColor;">Cracked Pants (1) Purple tank (3)</div>
<div class="a" style="left:886.0px;top:434.4px;font-size:16.8px;color:#b4641f;letter-spacing:-0.10px;">Pending</div>
<div class="a" style="left:443.0px;top:474.3px;font-size:19.4px;color:#0b0b0b;letter-spacing:-0.08px;">Cashier: Ridwan Egbeyemi</div>
<div class="a" style="left:407.0px;top:548.1px;font-size:17.2px;color:#0b0b0b;letter-spacing:0.12px;">Jul 29, 2025</div>
<div class="a" style="left:523.0px;top:548.1px;font-size:17.2px;color:#0b0b0b;letter-spacing:0.20px;">04:29PM</div>
<div class="a" style="left:870.0px;top:548.1px;font-size:17.2px;color:#0b0b0b;letter-spacing:0.32px;">ID: #00138</div>
<div class="a" style="left:407.0px;top:575.5px;font-size:19px;color:#0b0b0b;letter-spacing:-0.06px;">Kanyinsola Lawal</div>
<div class="a" style="left:870.0px;top:575.0px;font-size:19px;color:#000;font-weight:700;letter-spacing:0.86px;-webkit-text-stroke:0.35px currentColor;">₦85,000.00</div>
<div class="a" style="left:407.0px;top:613.2px;font-size:20px;color:#000;letter-spacing:0.11px;-webkit-text-stroke:0.25px currentColor;">Cracked Pants (1)</div>
<div class="a" style="left:886.0px;top:616.2px;font-size:16.8px;color:#b4641f;letter-spacing:-0.10px;">Pending</div>
<div class="a" style="left:443.0px;top:655.3px;font-size:19.4px;color:#0b0b0b;letter-spacing:-0.08px;">Cashier: Ridwan Egbeyemi</div>
<div class="a" style="left:407.0px;top:727.1px;font-size:17.2px;color:#0b0b0b;letter-spacing:0.12px;">Jul 29, 2025</div>
<div class="a" style="left:523.0px;top:727.1px;font-size:17.2px;color:#0b0b0b;letter-spacing:0.20px;">04:29PM</div>
<div class="a" style="left:870.0px;top:727.1px;font-size:17.2px;color:#0b0b0b;letter-spacing:0.32px;">ID: #00138</div>
<div class="a" style="left:407.0px;top:754.5px;font-size:19px;color:#0b0b0b;letter-spacing:-0.06px;">Kanyinsola Lawal</div>
<div class="a" style="left:870.0px;top:754.0px;font-size:19px;color:#000;font-weight:700;letter-spacing:0.86px;-webkit-text-stroke:0.35px currentColor;">₦85,000.00</div>
<div class="a" style="left:407.0px;top:792.2px;font-size:20px;color:#000;letter-spacing:0.11px;-webkit-text-stroke:0.25px currentColor;">Cracked Pants (1)</div>
<div class="a" style="left:886.0px;top:795.2px;font-size:16.8px;color:#b4641f;letter-spacing:-0.10px;">Pending</div>
<div class="a" style="left:443.0px;top:834.3px;font-size:19.4px;color:#0b0b0b;letter-spacing:-0.08px;">Cashier: Ridwan Egbeyemi</div>
<div class="a" style="left:407.0px;top:906.1px;font-size:17.2px;color:#0b0b0b;letter-spacing:0.12px;">Jul 29, 2025</div>
<div class="a" style="left:523.0px;top:906.1px;font-size:17.2px;color:#0b0b0b;letter-spacing:0.20px;">04:29PM</div>
<div class="a" style="left:869.0px;top:906.1px;font-size:17.2px;color:#0b0b0b;letter-spacing:0.32px;">ID: #00138</div>
<div class="a" style="left:407.0px;top:933.5px;font-size:19px;color:#0b0b0b;letter-spacing:-0.06px;">Kanyinsola Lawal</div>
<div class="a" style="left:869.0px;top:933.0px;font-size:19px;color:#000;font-weight:700;letter-spacing:0.86px;-webkit-text-stroke:0.35px currentColor;">₦85,000.00</div>
<div class="a" style="left:407.0px;top:1054.4px;font-size:25px;color:#000;font-weight:700;letter-spacing:-0.75px;-webkit-text-stroke:0.5px #000;">Sales source</div>
<div class="a" style="left:761.0px;top:1127.1px;font-size:18.5px;color:#0b0b0b;letter-spacing:0.25px;">Website</div>
<div class="a" style="left:761.0px;top:1151.5px;font-size:19px;color:#000;font-weight:700;letter-spacing:0.75px;-webkit-text-stroke:0.35px currentColor;">₦85,000.00</div>
<div class="a" style="left:424.0px;top:1211.5px;font-size:18.5px;color:#0b0b0b;letter-spacing:0.31px;">Walk-in store</div>
<div class="a" style="left:424.0px;top:1235.9px;font-size:19px;color:#000;font-weight:700;letter-spacing:0.75px;-webkit-text-stroke:0.35px currentColor;">₦85,000.00</div>
<div class="a" style="left:1100.0px;top:320.1px;font-size:25px;color:#000;font-weight:700;letter-spacing:-0.73px;-webkit-text-stroke:0.5px #000;">Discounts</div>
<div class="a" style="left:1616.0px;top:322.7px;font-size:18.5px;color:#3350f0;letter-spacing:-0.48px;">VIEW ALL</div>
<div class="a" style="left:1192.0px;top:384.8px;font-size:17px;color:#8a8a8a;letter-spacing:-0.20px;">Since Fri, Aug 1</div>
<div class="a" style="left:1192.0px;top:412.0px;font-size:18.5px;color:#000;font-weight:700;letter-spacing:0.02px;-webkit-text-stroke:0.35px currentColor;">#FIRSTORDER25</div>
<div class="a" style="left:1192.0px;top:454.0px;font-size:14.6px;color:#0b0b0b;letter-spacing:1.82px;">USED <b style="-webkit-text-stroke:0.3px #000">2.8K</b></div>
<div class="a" style="left:1317.0px;top:454.0px;font-size:14.6px;color:#0b0b0b;letter-spacing:1.61px;">VALUE&nbsp; <b style="-webkit-text-stroke:0.3px #000">₦120K</b></div>
<div class="a" style="left:1627.0px;top:389.3px;font-size:16.8px;color:#b4641f;letter-spacing:-0.14px;">Active</div>
<div class="a" style="left:1117.0px;top:601.4px;font-size:25px;color:#000;font-weight:700;letter-spacing:-0.53px;-webkit-text-stroke:0.5px #000;">Low stock alerts</div>
<div class="a" style="left:1615.0px;top:601.7px;font-size:18.5px;color:#3350f0;letter-spacing:-0.48px;">VIEW ALL</div>
<div class="a" style="left:1225.0px;top:667.0px;font-size:20px;color:#000;letter-spacing:0.65px;-webkit-text-stroke:0.25px currentColor;">Cracked Pants</div>
<div class="a" style="left:1225.0px;top:697.3px;font-size:19.4px;color:#0b0b0b;letter-spacing:0.08px;">15 sold</div>
<div class="a" style="left:1304.0px;top:697.3px;font-size:19.4px;color:#c9221e;letter-spacing:-0.01px;">1 left</div>
<div class="a" style="left:1544.0px;top:667.0px;font-size:20px;color:#000;letter-spacing:0.65px;-webkit-text-stroke:0.25px currentColor;">Cracked Pants</div>
<div class="a" style="left:1544.0px;top:697.3px;font-size:19.4px;color:#0b0b0b;letter-spacing:0.08px;">58 sold</div>
<div class="a" style="left:1623.0px;top:697.3px;font-size:19.4px;color:#c9221e;letter-spacing:-0.01px;">1 left</div>
<div class="a" style="left:1225.0px;top:794.0px;font-size:20px;color:#000;letter-spacing:0.65px;-webkit-text-stroke:0.25px currentColor;">Cracked Pants</div>
<div class="a" style="left:1225.0px;top:824.3px;font-size:19.4px;color:#0b0b0b;letter-spacing:0.08px;">25 sold</div>
<div class="a" style="left:1304.0px;top:824.3px;font-size:19.4px;color:#c9221e;letter-spacing:-0.01px;">1 left</div>
<div class="a" style="left:1544.0px;top:794.0px;font-size:20px;color:#000;letter-spacing:0.65px;-webkit-text-stroke:0.25px currentColor;">Cracked Pants</div>
<div class="a" style="left:1544.0px;top:824.3px;font-size:19.4px;color:#0b0b0b;letter-spacing:-0.15px;">3 sold</div>
<div class="a" style="left:1623.0px;top:824.3px;font-size:19.4px;color:#c9221e;letter-spacing:-0.01px;">1 left</div>
<div class="a" style="left:1117.0px;top:988.1px;font-size:25px;color:#000;font-weight:700;letter-spacing:-0.66px;-webkit-text-stroke:0.5px #000;">Cashiers</div>
<div class="a" style="left:1615.0px;top:987.7px;font-size:18.5px;color:#3350f0;letter-spacing:0.16px;">MANAGE</div>
<div class="a" style="left:1199.0px;top:1064.3px;font-size:19.4px;color:#0b0b0b;letter-spacing:-0.16px;">Ridwan Egbeyemi</div>
<div class="a" style="left:1212.0px;top:1104.6px;font-size:16.8px;color:#b4641f;letter-spacing:0.06px;">Active</div>
<div class="a" style="left:1547.0px;top:1064.3px;font-size:19.4px;color:#0b0b0b;letter-spacing:0.11px;">Sales: <b>₦350,000</b></div>
<div class="a" style="left:1199.0px;top:1180.0px;font-size:19.4px;color:#0b0b0b;letter-spacing:-0.13px;">Tolib Muhammed</div>
<div class="a" style="left:1212.0px;top:1216.3px;font-size:16.8px;color:#b4641f;letter-spacing:0.17px;">Inactive</div>
<div class="a" style="left:1302.0px;top:1215.6px;font-size:16.8px;color:#8a8a8a;letter-spacing:0.29px;">Last active: Oct 7 2025, 12:51PM</div>
<div class="a" style="left:1547.0px;top:1177.3px;font-size:19.4px;color:#0b0b0b;letter-spacing:0.11px;">Sales: <b>₦350,000</b></div>
</div>
</div>
</body>
</html>
